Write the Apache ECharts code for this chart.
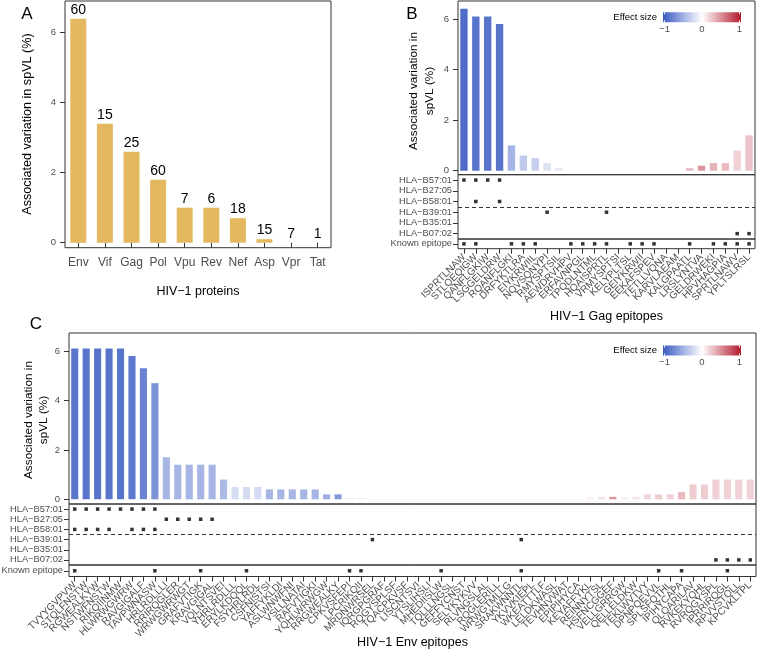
<!DOCTYPE html>
<html><head><meta charset="utf-8">
<script src="https://cdn.jsdelivr.net/npm/echarts@6/dist/echarts.min.js"></script>
<style>html,body{margin:0;padding:0;background:#fff}#c{width:757px;height:657px}</style>
</head><body><div id="c"></div>
<script>
// ---------- data ----------
const proteins = ['Env','Vif','Gag','Pol','Vpu','Rev','Nef','Asp','Vpr','Tat'];
const proteinVariation = [6.4,3.4,2.6,1.8,1.0,1.0,0.7,0.1,0,0];
const proteinEpitopeCounts = [60,15,25,60,7,6,18,15,7,1];

const hlaAlleles = ['HLA\u2212B57:01','HLA\u2212B27:05','HLA\u2212B58:01','HLA\u2212B39:01','HLA\u2212B35:01','HLA\u2212B07:02'];
const knownLabel = ['Known epitope'];

const gagEpitopes = ['ISPRTLNAW','STLQEQIGW','QANFLGKIW','LSGGELDRW','RQANFLGKI','DRFYKTLRA','EIYKRWIIL','NQVSQNYPI','RMYSPTSIL','AEWDRVHPV','ERFAVNPGL','TPQDLNTML','HQAISPRTL','VRMYSPTSI','KELYPLTSL','GEIYKRWII','EEKAFSPEV','TETLLVQNA','KARVLAEAM','KALGPAATL','LRSLYNTVA','GELDRWEKI','HPVHAGPIA','SPRTLNAWV','YPLTSLRSL'];
const gagVariation = [6.4,6.1,6.1,5.8,1.0,0.6,0.5,0.3,0.1,0,0,0,0,0,0,0,0,0,0,0.1,0.2,0.3,0.3,0.8,1.4];
const gagEffect = [-0.9,-0.85,-0.85,-0.85,-0.45,-0.33,-0.3,-0.18,-0.15,0,0,0,0,0,0,0,0,0,0,0.3,0.45,0.33,0.3,0.2,0.26];
const gagHlaEpitopes = [[1,2,3,4],[],[2,4],[8,13],[],[24,25]];
const gagKnownEpitopes = [1,2,5,6,7,10,11,12,13,15,16,17,20,22,23,24,25];

const envEpitopes = ['TVYYGVPVW','STQLFNSTW','RGWEALKYW','NSTWFNSTW','RIKQIINMW','HLWRWGWRW','RAVGIGALF','TAVPWNASW','HRLRDLLLI','RRIRQGLER','WRWGWRWGT','GRAFVTIGK','KRAVGIGAL','VQLNTSVEI','YHRLRDLLL','ERYLKDQQL','FSYHRLRDL','CSFNISTSI','YAFFYKLDI','ASLWNWFNI','VSLLNATAI','RAFVTIGKI','YQHLWRWGW','RRGWEALKY','CPKVSFEPI','LPCRIKQII','MRDNWRSEL','IQRGPGRAF','RQGYSPLSF','TQACPKVSF','LISCNTSVI','YTSLIHSLI','MHEDIISLW','TQLLLNGSL','GEFFYCNST','SELYKYKVV','RLVNGSLAL','RQGLERILL','WRWGTMLLG','SRAKWNNTL','YKVVKIEPL','WKEATTTLF','LELDKWASL','TEVHNVWAT','EPIPIHYCA','KEYAFFYKL','REINNYTSL','HSFNCGGEF','VELLGRRGW','QELLELDKW','TEKLWVTVY','DPNPQEVVL','SPLSFQTHL','IPIHYCAPA','QLQARILAV','RVKEKYQHL','RVRQGYSPL','IPRRIRQGL','RPVVSTQLL','KPCVKLTPL'];
const envVariation = [6.1,6.1,6.1,6.1,6.1,5.8,5.3,4.7,1.7,1.4,1.4,1.4,1.4,0.8,0.5,0.5,0.5,0.4,0.4,0.4,0.4,0.4,0.2,0.2,0.05,0.05,0,0,0,0,0,0,0,0,0,0,0,0,0,0,0,0,0,0,0,0.1,0.1,0.1,0.1,0.1,0.2,0.2,0.2,0.3,0.6,0.6,0.8,0.8,0.8,0.8];
const envEffect = [-0.85,-0.85,-0.85,-0.85,-0.85,-0.82,-0.76,-0.66,-0.45,-0.45,-0.45,-0.45,-0.45,-0.42,-0.22,-0.22,-0.22,-0.45,-0.45,-0.45,-0.45,-0.45,-0.5,-0.62,-0.08,-0.08,0,0,0,0,0,0,0,0,0,0,0,0,0,0,0,0,0,0,0,0.08,0.12,0.45,0.08,0.12,0.18,0.22,0.2,0.3,0.22,0.22,0.2,0.2,0.2,0.2];
const envHlaEpitopes = [[1,2,3,4,5,6,7,8],[9,10,11,12,13],[1,2,3,4,6,7,8],[27,40],[],[57,58,59,60]];
const envKnownEpitopes = [1,8,12,16,25,26,33,40,52,54,58];

const effectTicks = ['\u22121','0','1'];
const yTicks = [0,2,4,6];

// ---------- style ----------
const FONT = 'Liberation Sans, Arial, Helvetica, sans-serif';
const GREY = '#4d4d4d';
const LINE = '#333333';
const LOW = '#3a5bc2', MID = '#ffffff', HIGH = '#b2182b';
const BAR_A = '#e4b85e';
const TICK = 5;

const chart = echarts.init(document.getElementById('c'), null, {renderer: 'canvas'});

function grid(left, top, width, height) {
  return {left, top, width, height, show: true, borderColor: LINE, borderWidth: 1, backgroundColor: 'transparent', containLabel: false, outerBoundsMode: 'none'};
}
function hiddenCatX(gi, data) {
  return {type: 'category', gridIndex: gi, data, boundaryGap: true, axisLine: {show: false}, axisTick: {show: false}, axisLabel: {show: false}, splitLine: {show: false}};
}
function labelCatX(gi, data, opts) {
  return Object.assign({type: 'category', gridIndex: gi, data, boundaryGap: true,
    axisLine: {show: false},
    axisTick: {show: true, alignWithLabel: true, interval: 0, length: TICK, lineStyle: {color: LINE, width: 1}},
    axisLabel: {show: true, interval: 0, color: GREY, fontFamily: FONT, fontSize: 10, rotate: 45, margin: 7, hideOverlap: false},
    splitLine: {show: false}}, opts || {});
}
function valueY(gi, min, max) {
  return {type: 'value', gridIndex: gi, min, max, splitLine: {show: false}, axisLine: {show: false},
    axisTick: {show: true, length: TICK, customValues: yTicks, lineStyle: {color: LINE, width: 1}},
    axisLabel: {show: true, customValues: yTicks, showMinLabel: true, showMaxLabel: true, color: GREY, fontFamily: FONT, fontSize: 9.5, margin: 9}};
}
function hlaY(gi) {
  const pos = hlaAlleles.map((_, i) => i + 0.5);
  return {type: 'value', gridIndex: gi, min: 0, max: hlaAlleles.length, inverse: true, splitLine: {show: false}, axisLine: {show: false},
    axisTick: {show: true, length: TICK, customValues: pos, lineStyle: {color: LINE, width: 1}},
    axisLabel: {show: true, customValues: pos, showMinLabel: true, showMaxLabel: true, hideOverlap: false,
      formatter: v => hlaAlleles[Math.floor(v)], color: GREY, fontFamily: FONT, fontSize: 9.3, margin: 6}};
}
function knownY(gi) {
  return {type: 'category', gridIndex: gi, data: knownLabel, boundaryGap: true, axisLine: {show: false}, splitLine: {show: false},
    axisTick: {show: true, alignWithLabel: true, length: TICK, lineStyle: {color: LINE, width: 1}},
    axisLabel: {show: true, color: GREY, fontFamily: FONT, fontSize: 9.3, margin: 6}};
}
function barSeries(xi, names, vals, eff) {
  return {type: 'bar', xAxisIndex: xi, yAxisIndex: xi, barWidth: '62%',
    data: names.map((n, i) => [n, vals[i], eff[i]]), encode: {x: 0, y: 1}};
}
function hlaSeries(xi, names, dots) {
  const data = [];
  dots.forEach((list, r) => list.forEach(k => data.push([names[k - 1], r + 0.5])));
  return {type: 'scatter', xAxisIndex: xi, yAxisIndex: xi, symbol: 'rect', symbolSize: 3.5, itemStyle: {color: '#000'}, data,
    markLine: {silent: true, symbol: 'none', label: {show: false}, lineStyle: {type: [4, 3], color: LINE, width: 1}, data: [{yAxis: 3}]}};
}
function knownSeries(xi, names, list) {
  return {type: 'scatter', xAxisIndex: xi, yAxisIndex: xi, symbol: 'rect', symbolSize: 3.5, itemStyle: {color: '#000'},
    data: list.map(k => [names[k - 1], knownLabel[0]])};
}
function txt(x, y, text, size, extra) {
  return Object.assign({type: 'text', x, y, silent: true,
    style: Object.assign({text, fontFamily: FONT, fontSize: size, fill: '#000', align: 'center', verticalAlign: 'middle', textAlign: 'center', textVerticalAlign: 'middle'}, extra && extra.style || {})},
    extra && extra.el || {});
}
function legend(x0, y0) {
  const w = 78, h = 10;
  const els = [
    txt(x0 - 6, y0 + h / 2, 'Effect size', 9.5, {style: {align: 'right', textAlign: 'right', fill: '#000'}}),
    {type: 'rect', silent: true, shape: {x: x0, y: y0, width: w, height: h},
      style: {fill: new echarts.graphic.LinearGradient(0, 0, 1, 0, [{offset: 0, color: LOW}, {offset: 0.5, color: MID}, {offset: 1, color: HIGH}])}}
  ];
  const tx = [x0 + 1.5, x0 + w / 2, x0 + w - 1.5];
  tx.forEach((x, i) => {
    els.push({type: 'line', silent: true, shape: {x1: x, y1: y0, x2: x, y2: y0 + 2}, style: {stroke: '#fff', lineWidth: 1}});
    els.push({type: 'line', silent: true, shape: {x1: x, y1: y0 + h - 2, x2: x, y2: y0 + h}, style: {stroke: '#fff', lineWidth: 1}});
    els.push(txt(x, y0 + h + 7, effectTicks[i], 9.5, {style: {fill: GREY}}));
  });
  return els;
}

const option = {
  animation: false,
  backgroundColor: '#fff',
  textStyle: {fontFamily: FONT},
  grid: [
    grid(65, 1, 266, 246.7),
    grid(458, 1, 297, 173.7),
    grid(458, 174.7, 297, 64.3),
    grid(458, 239, 297, 9.7),
    grid(69, 333, 687, 171),
    grid(69, 504, 687, 61),
    grid(69, 565, 687, 11.5)
  ],
  xAxis: [
    labelCatX(0, proteins, {axisLabel: {show: true, interval: 0, color: GREY, fontFamily: FONT, fontSize: 12, margin: 9}}),
    hiddenCatX(1, gagEpitopes),
    hiddenCatX(2, gagEpitopes),
    labelCatX(3, gagEpitopes),
    hiddenCatX(4, envEpitopes),
    hiddenCatX(5, envEpitopes),
    labelCatX(6, envEpitopes)
  ],
  yAxis: [
    valueY(0, -0.143, 6.906),
    valueY(1, -0.158, 6.71),
    hlaY(2),
    knownY(3),
    valueY(4, -0.19, 6.73),
    hlaY(5),
    knownY(6)
  ],
  visualMap: [{type: 'continuous', show: false, seriesIndex: [1, 4], dimension: 2, min: -1, max: 1, inRange: {color: [LOW, MID, HIGH]}}],
  series: [
    {type: 'bar', xAxisIndex: 0, yAxisIndex: 0, barWidth: '60%', data: proteinVariation, itemStyle: {color: BAR_A},
      label: {show: true, position: 'top', distance: 2, color: '#000', fontFamily: FONT, fontSize: 14,
        formatter: p => String(proteinEpitopeCounts[p.dataIndex])}},
    barSeries(1, gagEpitopes, gagVariation, gagEffect),
    hlaSeries(2, gagEpitopes, gagHlaEpitopes),
    knownSeries(3, gagEpitopes, gagKnownEpitopes),
    barSeries(4, envEpitopes, envVariation, envEffect),
    hlaSeries(5, envEpitopes, envHlaEpitopes),
    knownSeries(6, envEpitopes, envKnownEpitopes)
  ],
  graphic: [
    txt(27, 14, 'A', 17),
    txt(412, 14, 'B', 17),
    txt(36, 324, 'C', 17),
    txt(28, 124, 'Associated variation in spVL (%)', 12.6, {el: {rotation: Math.PI / 2}}),
    txt(421.5, 91, 'Associated variation in\nspVL (%)', 11.8, {el: {rotation: Math.PI / 2}, style: {lineHeight: 16}}),
    txt(36, 420, 'Associated variation in\nspVL (%)', 11.8, {el: {rotation: Math.PI / 2}, style: {lineHeight: 15}}),
    txt(198, 292, 'HIV\u22121 proteins', 12.5),
    txt(606.5, 316.5, 'HIV\u22121 Gag epitopes', 12.5),
    txt(412.5, 643, 'HIV\u22121 Env epitopes', 12.5)
  ].concat(legend(663, 12.3), legend(663, 345.5))
};
chart.setOption(option);
</script>
</body></html>
